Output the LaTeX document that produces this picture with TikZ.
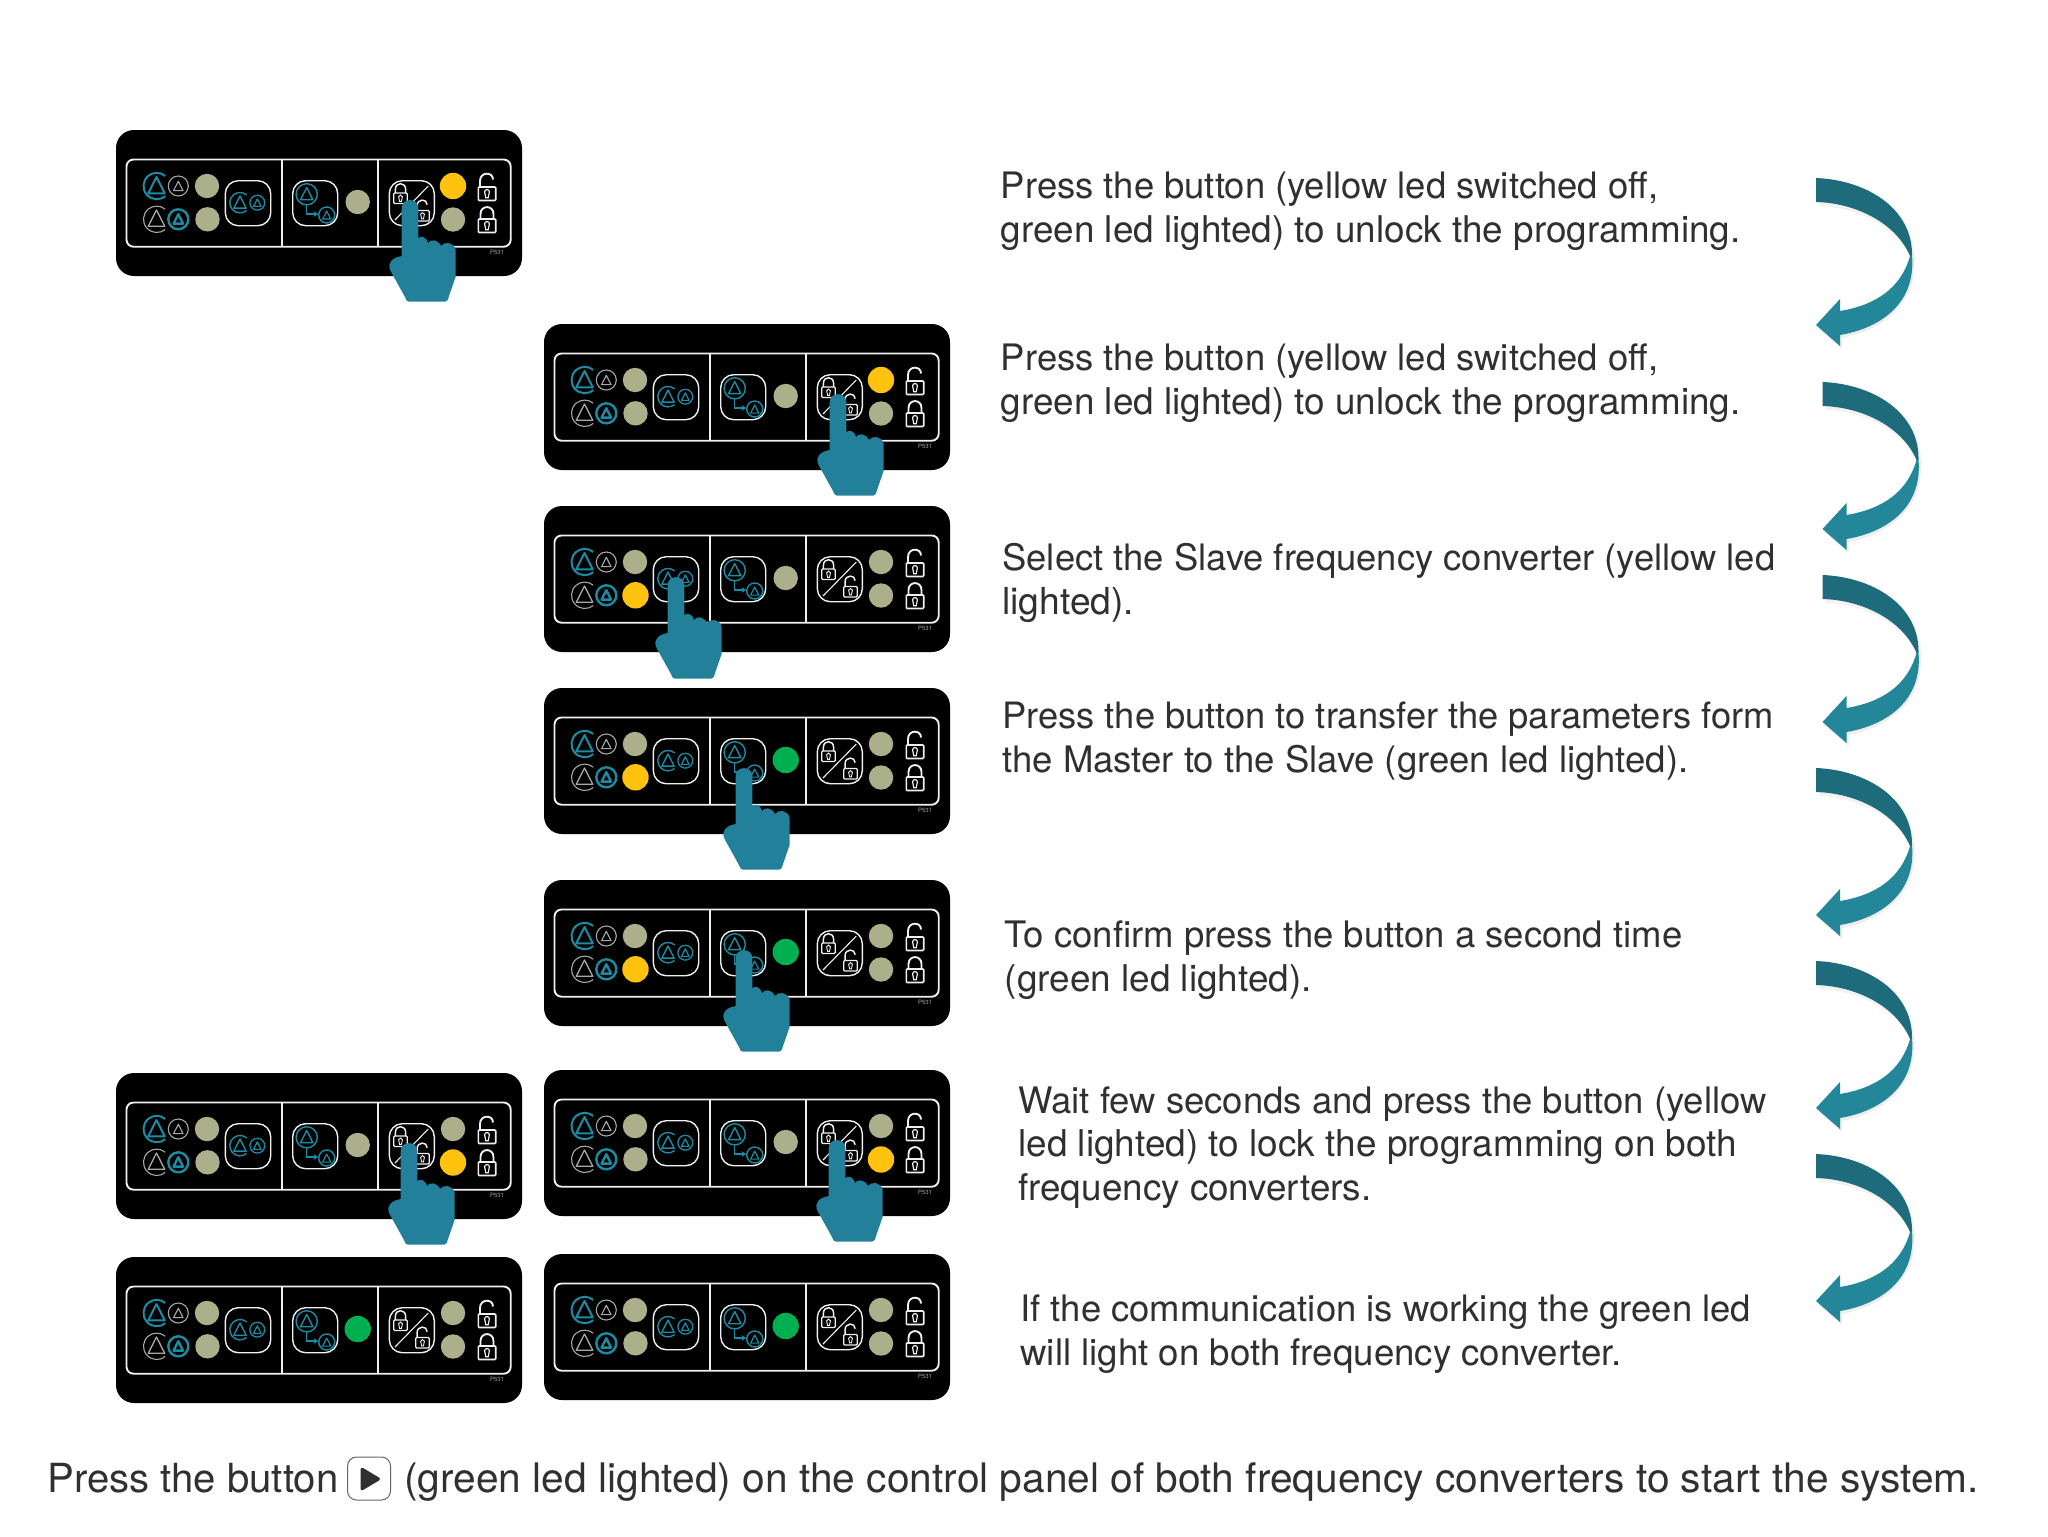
\documentclass[tikz,border=0pt]{standalone}
\usepackage{fontspec}
\setmainfont{TeX Gyre Heros}
\usetikzlibrary{arrows.meta}
\definecolor{ledO}{HTML}{ACB08A}
\definecolor{ledY}{HTML}{FFC20E}
\definecolor{ledG}{HTML}{00B050}
\definecolor{iconT}{HTML}{1A8CA3}
\definecolor{iconG}{HTML}{A8A8A8}
\definecolor{lineW}{HTML}{F0F0F0}
\definecolor{handC}{HTML}{22809A}
\definecolor{arrD}{HTML}{1D6B7B}
\definecolor{arrL}{HTML}{238699}
\definecolor{txtC}{HTML}{303030}
\tikzset{
  tline/.style={anchor=base west,inner sep=0pt,text=txtC},
  wline/.style={draw=lineW,line width=0.95pt},
  bline/.style={draw=lineW,line width=0.7pt},
}
\newcommand{\tri}[5]{% cx cy s colour lw
  \draw[draw=#4,line width=#5,line join=round] (#1,#2-1.15*#3) -- (#1+0.95*#3,#2+0.72*#3) -- (#1-0.95*#3,#2+0.72*#3) -- cycle;}
\newcommand{\gapc}[5]{% cx cy r colour lw
  \draw[draw=#4,line width=#5] ([shift={(#1,#2)}]50:#3) arc (50:310:#3);}
\newcommand{\fullc}[5]{\draw[draw=#4,line width=#5] (#1,#2) circle (#3);}
\newcommand{\led}[3]{\def\ledA{#3}\def\ledB{ledO}%
  \ifx\ledA\ledB\fill[#3] (#1,#2) circle (12.2);\else\fill[#3] (#1,#2) circle (13.2);\fi}
\newcommand{\lockbase}[1]{%
  \draw[lineW,line width=#1*0.8pt,rounded corners=0.5pt] (-8.7,0) rectangle (8.7,13.5);
  \draw[lineW,line width=#1*0.6pt] (-2.4,4.8) .. controls (-2.4,1.8) and (2.4,1.8) .. (2.4,4.8) -- (1.2,10.8) -- (-1.2,10.8) -- cycle;}
\newcommand{\lockclosed}[3]{\begin{scope}[shift={(#1,#2)},scale=#3]
  \lockbase{#3}
  \draw[lineW,line width=#3*0.95pt] (-6.5,0) -- (-6.5,-5) .. controls (-6.5,-14.2) and (6.5,-14.2) .. (6.5,-5) -- (6.5,0);
\end{scope}}
\newcommand{\lockopen}[3]{\begin{scope}[shift={(#1,#2)},scale=#3]
  \lockbase{#3}
  \draw[lineW,line width=#3*0.95pt] (-7,0) -- (-7,-6) .. controls (-7,-15.5) and (6,-15.5) .. (6,-7.5);
\end{scope}}
\newcommand{\panel}[8]{% id x y TL BL M TR BR
\begin{scope}[shift={(#2,#3)}]
  \fill[black,rounded corners=9pt] (0,0) rectangle (406,146);
  \draw[wline,rounded corners=3.5pt] (10.5,29.5) rectangle (394.7,116.7);
  \draw[wline] (165.7,29.5) -- (165.7,116.7) (262.3,29.5) -- (262.3,116.7);
  \gapc{40.7}{56}{13.2}{iconT}{1pt}
  \tri{40.5}{57}{8.7}{iconT}{1pt}
  \fullc{62.3}{56}{10}{iconG}{0.55pt}
  \tri{62.3}{57}{5}{iconG}{0.55pt}
  \gapc{40.7}{89.3}{13.2}{iconG}{0.55pt}
  \tri{40.5}{90}{8.7}{iconG}{0.65pt}
  \fullc{62.3}{89.3}{10}{iconT}{1.2pt}
  \tri{62.3}{90}{5}{iconT}{1.2pt}
  \led{91}{56}{#4}
  \led{91.5}{89.3}{#5}
  \draw[bline,rounded corners=6.5pt] (109.3,50.7) rectangle (154.7,95.7);
  \gapc{124}{72.7}{10.2}{iconT}{0.7pt}
  \tri{124}{73.5}{6.5}{iconT}{0.7pt}
  \fullc{141.3}{72.7}{7.4}{iconT}{0.65pt}
  \tri{141.3}{73.5}{4}{iconT}{0.6pt}
  \draw[bline,rounded corners=6.5pt] (176.7,50.7) rectangle (221.7,95.7);
  \fullc{190.7}{64.3}{10.6}{iconT}{0.7pt}
  \tri{190.7}{65}{6.5}{iconT}{0.7pt}
  \fullc{210.7}{85}{8}{iconT}{0.7pt}
  \tri{210.7}{86}{4.3}{iconT}{0.6pt}
  \draw[iconT,line width=0.7pt,-{Stealth[length=2.4pt,width=2.8pt]}] (190.7,75) -- (190.7,84) -- (202.3,84);
  \led{241.7}{72}{#6}
  \draw[bline,rounded corners=6.5pt] (273.3,50.7) rectangle (318.3,95.7);
  \draw[lineW,line width=0.55pt] (279,90) -- (312.3,56);
  \lockclosed{284.5}{63}{0.78}
  \lockopen{306.5}{80.5}{0.78}
  \led{337}{56}{#7}
  \led{337}{89.5}{#8}
  \lockopen{371}{57}{1}
  \lockclosed{371}{89}{1}
  \node[inner sep=0pt,text=iconG,font=\fontsize{3}{3}\selectfont] (#1tag) at (381,122) {P531};
\end{scope}}
\newcommand{\hand}[2]{% tip position
\begin{scope}[shift={(#1,#2)}]
  \fill[handC] (-8.3,8) .. controls (-8.3,-2.5) and (8.3,-2.5) .. (8.3,8) -- (8.3,38)
    .. controls (11,36) and (16,36) .. (18,43)
    .. controls (20,39) and (28,39) .. (31,46)
    .. controls (34,41) and (44,42) .. (45.7,50)
    -- (45.7,76.7) -- (39,96) .. controls (38,100) and (37,101.7) .. (35,101.7)
    -- (-1,101.7) .. controls (-3,101.7) and (-4,100) .. (-5,97)
    -- (-18.3,73) .. controls (-22,68) and (-22,62) .. (-15,58)
    .. controls (-13,57) and (-10,56.5) .. (-8.3,56) -- cycle;
\end{scope}}
\newcommand{\bendarrow}[2]{%
\begin{scope}[shift={(#1,#2)}]
  \fill[black,opacity=0.07] (98,80) .. controls (102,125) and (67,152) .. (26,160) -- (26,171) -- (2,150) -- (26,136) .. controls (60,128) and (90,110) .. (96,80) -- cycle;
  \fill[black,opacity=0.05] (3,5) .. controls (52,7) and (99,35) .. (99,82) -- (96,82) .. controls (82,48) and (40,29) .. (3,28) -- cycle;
  \fill[arrD] (0,0) .. controls (50,2) and (97,30) .. (96,78) -- (94,78) .. controls (80,45) and (40,25) .. (0,24) -- cycle;
  \fill[arrL] (96,78) .. controls (100,125) and (65,150) .. (24,157) -- (24,168) -- (0,147) -- (24,121) -- (24,133) .. controls (60,127) and (85,110) .. (94,78) -- cycle;
\end{scope}}
\newcommand{\txt}[5]{\node[tline,font=\fontsize{#4}{22}\selectfont] (#1) at (#2,#3) {#5};}
\begin{document}
\begin{tikzpicture}[x=0.5pt,y=-0.5pt]
\useasboundingbox (0,0) rectangle (2048,1536);
\fill[white] (0,0) rectangle (2048,1536);
% panels
\panel{pa}{116}{130}{ledO}{ledO}{ledO}{ledY}{ledO}
\panel{pb}{544}{324}{ledO}{ledO}{ledO}{ledY}{ledO}
\panel{pc}{544}{506}{ledO}{ledY}{ledO}{ledO}{ledO}
\panel{pd}{544}{688}{ledO}{ledY}{ledG}{ledO}{ledO}
\panel{pe}{544}{880}{ledO}{ledY}{ledG}{ledO}{ledO}
\panel{pf}{116}{1073}{ledO}{ledO}{ledO}{ledO}{ledY}
\panel{pg}{544}{1070}{ledO}{ledO}{ledO}{ledO}{ledY}
\panel{ph}{116}{1257}{ledO}{ledO}{ledG}{ledO}{ledO}
\panel{pi}{544}{1254}{ledO}{ledO}{ledG}{ledO}{ledO}
% hands
\hand{410}{200}
\hand{838}{394}
\hand{676}{577}
\hand{744}{768}
\hand{744}{950}
\hand{409}{1143}
\hand{837}{1140}
% curved arrows
\bendarrow{1816}{178}
\bendarrow{1822.5}{382}
\bendarrow{1822.5}{575}
\bendarrow{1816}{768}
\bendarrow{1816}{961}
\bendarrow{1816}{1154}
% texts
\txt{ta}{1000.5}{198}{18.22}{Press the button (yellow led switched off,}
\txt{tb}{1000.5}{242}{18.42}{green led lighted) to unlock the programming.}
\txt{tc}{1000.5}{370}{18.22}{Press the button (yellow led switched off,}
\txt{td}{1000.5}{414}{18.42}{green led lighted) to unlock the programming.}
\txt{te}{1002}{570}{18.2}{Select the Slave frequency converter (yellow led}
\txt{tf}{1002}{614}{18.6}{lighted).}
\txt{tg}{1002}{728}{18.15}{Press the button to transfer the parameters form}
\txt{th}{1002}{772}{18.25}{the Master to the Slave (green led lighted).}
\txt{ti}{1004.5}{947}{18.25}{To confirm press the button a second time}
\txt{tj}{1004.5}{991}{18.45}{(green led lighted).}
\txt{tk}{1018}{1113}{18.25}{Wait few seconds and press the button (yellow}
\txt{tl}{1018}{1156.5}{18.47}{led lighted) to lock the programming on both}
\txt{tm}{1018}{1200}{18.4}{frequency converters.}
\txt{tn}{1020}{1321}{18.23}{If the communication is working the green led}
\txt{to}{1020}{1365}{18.32}{will light on both frequency converter.}
% bottom line
\txt{ba}{47}{1492}{20.05}{Press the button}
\draw[draw=black!60,line width=0.5pt,rounded corners=4.5pt] (347.5,1457) rectangle (390.5,1500);
\fill[txtC,rounded corners=1.5pt] (360.5,1466.5) -- (381.5,1479) -- (360.5,1491.5) -- cycle;
\txt{bb}{404}{1492}{20.34}{(green led lighted) on the control panel of both frequency converters to start the system.}
\end{tikzpicture}
\end{document}
